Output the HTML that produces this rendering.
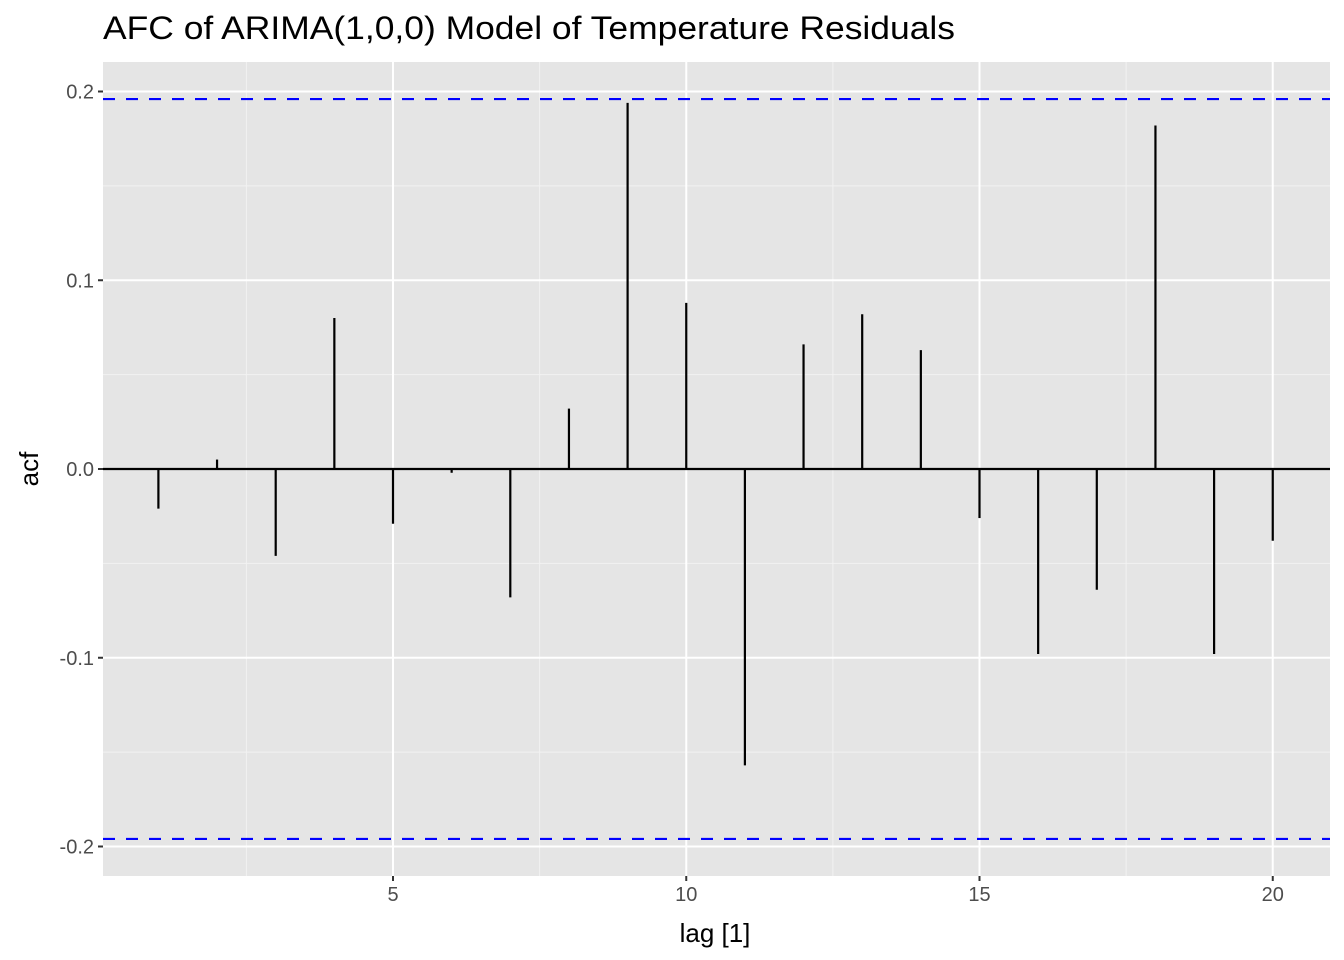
<!DOCTYPE html>
<html><head><meta charset="utf-8"><style>
html,body{margin:0;padding:0;background:#fff;}
svg{display:block;font-family:"Liberation Sans",Arial,sans-serif;}
</style></head><body>
<svg id="chart" width="1344" height="960">
<text x="103" y="39" font-size="32" textLength="852" lengthAdjust="spacingAndGlyphs" fill="#000">AFC of ARIMA(1,0,0) Model of Temperature Residuals</text>
<rect x="103" y="62" width="1227" height="814" fill="#e5e5e5"/>
<g id="grid"></g>
<g id="marks"></g>
<g id="axes"></g>
<text x="715" y="942" font-size="26" text-anchor="middle" fill="#000">lag [1]</text>
<text transform="translate(38,469) rotate(-90)" font-size="26" text-anchor="middle" fill="#000">acf</text>
</svg>
<script>
const lags = [1,2,3,4,5,6,7,8,9,10,11,12,13,14,15,16,17,18,19,20];
const acfValues = [-0.021,0.005,-0.046,0.080,-0.029,-0.002,-0.068,0.032,0.194,0.088,-0.157,0.066,0.082,0.063,-0.026,-0.098,-0.064,0.182,-0.098,-0.038];
const ciBound = 0.196;
const yTicks = [-0.2,-0.1,0.0,0.1,0.2];
const yTickLabels = ["-0.2","-0.1","0.0","0.1","0.2"];
const xTicks = [5,10,15,20];
const xTickLabels = ["5","10","15","20"];

const NS="http://www.w3.org/2000/svg";
const px0=103, px1=1330, py0=62, py1=876;
function xScale(v){ return 393 + (v-5)*58.65; }
function yScale(v){ return 469 - v*1887.5; }
function mk(tag, attrs, parent){ const e=document.createElementNS(NS,tag); for(const k in attrs) e.setAttribute(k,attrs[k]); parent.appendChild(e); return e; }
const grid=document.getElementById('grid'), marks=document.getElementById('marks'), axes=document.getElementById('axes');

for(let i=0;i<yTicks.length-1;i++){
  const y=yScale((yTicks[i]+yTicks[i+1])/2);
  const l=mk('line',{x1:px0,x2:px1,y1:y,y2:y,stroke:'#f2f2f2','stroke-width':1},grid);
  
  
}
for(let i=0;i<xTicks.length-1;i++){
  const x=xScale((xTicks[i]+xTicks[i+1])/2);
  const l=mk('line',{x1:x,x2:x,y1:py0,y2:py1,stroke:'#f2f2f2','stroke-width':1},grid);
  
  
}
{ const x=xScale(xTicks[0]-(xTicks[1]-xTicks[0])/2);
  const l=mk('line',{x1:x,x2:x,y1:py0,y2:py1,stroke:'#f2f2f2','stroke-width':1},grid);
  
   }
yTicks.forEach((t,i)=>{
  const y=yScale(t);
  const l=mk('line',{x1:px0,x2:px1,y1:y,y2:y,stroke:'#fff','stroke-width':2},grid);
  
  
  const tk=mk('line',{x1:px0-5,x2:px0,y1:y,y2:y,stroke:'#333','stroke-width':2},axes);
  
  
  const tx=mk('text',{x:px0-9,y:y+7,'font-size':20,'text-anchor':'end',fill:'#4d4d4d'},axes);
  tx.textContent=yTickLabels[i];
  
  
});
xTicks.forEach((t,i)=>{
  const x=xScale(t);
  const l=mk('line',{x1:x,x2:x,y1:py0,y2:py1,stroke:'#fff','stroke-width':2},grid);
  
  
  const tk=mk('line',{x1:x,x2:x,y1:py1,y2:py1+5,stroke:'#333','stroke-width':2},axes);
  
  
  const tx=mk('text',{x:x,y:py1+25,'font-size':20,'text-anchor':'middle',fill:'#4d4d4d'},axes);
  tx.textContent=xTickLabels[i];
  
  
});
{ const z=mk('line',{x1:px0,x2:px1,y1:yScale(0),y2:yScale(0),stroke:'#000','stroke-width':2.2},marks);
  
   }
lags.forEach((lg,i)=>{
  const x=xScale(lg);
  const s=mk('line',{x1:x,x2:x,y1:yScale(0),y2:yScale(acfValues[i]),stroke:'#000','stroke-width':2.2},marks);
  
  
});
[ciBound,-ciBound].forEach(v=>{
  const y=yScale(v);
  const c=mk('line',{x1:px0,x2:px1,y1:y,y2:y,stroke:'#0000ff','stroke-width':2.2,'stroke-dasharray':'12 11'},marks);
  
  
});
</script>
</body></html>
